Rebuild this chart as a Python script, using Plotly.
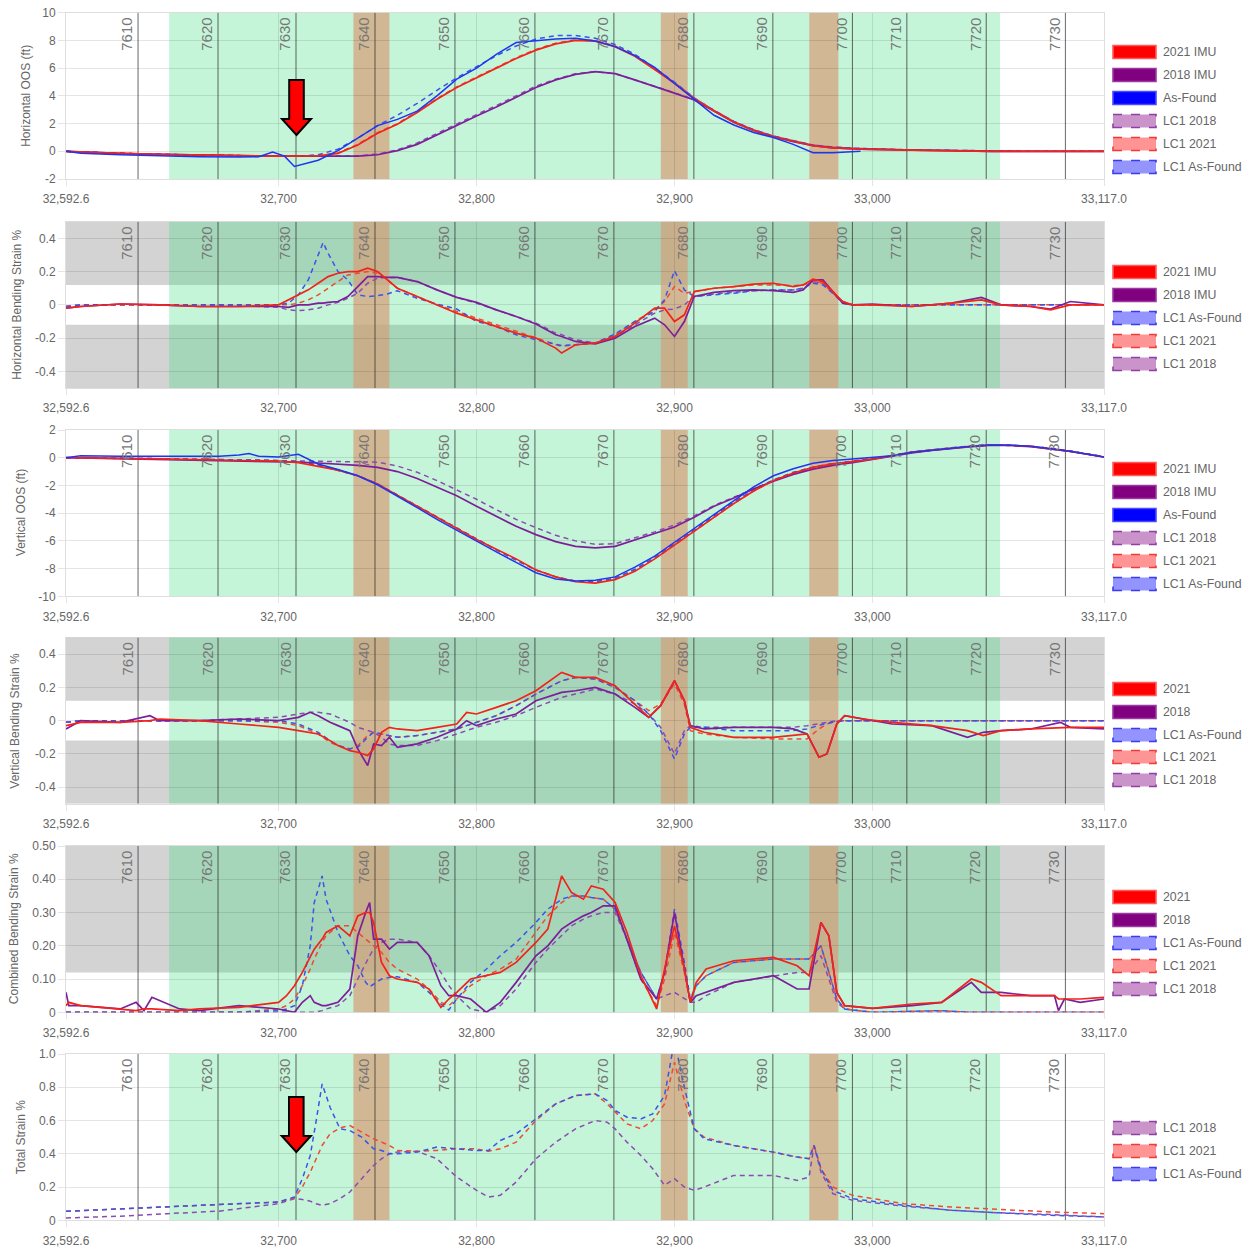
import plotly.graph_objects as go

# ====================== DATA ======================
X_MIN, X_MAX = 32592.6, 33117.0
X_TICK_VALS = [32592.6, 32700, 32800, 32900, 33000, 33117.0]
X_TICK_TEXT = ["32,592.6", "32,700", "32,800", "32,900", "33,000", "33,117.0"]

STATION_X = [32629.0, 32669.4, 32708.8, 32748.7, 32789.1, 32829.5, 32869.4,
             32909.8, 32949.7, 32989.9, 33017.4, 33057.5, 33097.5]
STATION_LABELS = ["7610", "7620", "7630", "7640", "7650", "7660", "7670",
                  "7680", "7690", "7700", "7710", "7720", "7730"]
GREEN_ZONE = [32644.7, 33064.5]
BROWN_ZONES = [[32737.8, 32756.0], [32893.1, 32906.7], [32968.1, 32982.8]]
STRAIN_LIMIT = 0.12

# ---- Panel 1: Horizontal OOS (ft)
P1_X = [32592.6, 32600, 32620, 32640, 32660, 32680, 32690, 32697, 32703, 32708,
        32714, 32720, 32730, 32740, 32750, 32760, 32770, 32780, 32790, 32800,
        32810, 32820, 32830, 32840, 32850, 32860, 32870, 32880, 32890, 32900,
        32910, 32920, 32930, 32940, 32950, 32960, 32970, 32980, 32994, 33020,
        33040, 33060, 33080, 33100, 33117]
P1_2021 = [0.0, -0.05, -0.15, -0.22, -0.28, -0.32, -0.34, -0.35, -0.35, -0.35,
           -0.35, -0.33, -0.15, 0.45, 1.3, 1.95, 2.8, 3.75, 4.6, 5.3,
           6.0, 6.7, 7.3, 7.75, 8.0, 7.95, 7.55, 6.85, 5.9, 4.9,
           3.8, 2.9, 2.1, 1.5, 1.05, 0.7, 0.4, 0.25, 0.15, 0.08,
           0.03, 0.0, 0.0, 0.0, 0.0]
P1_2018 = [0.0, -0.05, -0.15, -0.22, -0.28, -0.32, -0.34, -0.35, -0.35, -0.35,
           -0.36, -0.36, -0.36, -0.35, -0.25, 0.05, 0.5, 1.2, 1.9, 2.55,
           3.2, 3.9, 4.6, 5.15, 5.55, 5.75, 5.6, 5.15, 4.7, 4.2,
           3.7, 2.9, 2.1, 1.5, 1.05, 0.7, 0.4, 0.25, 0.15, 0.08,
           0.03, 0.0, 0.0, 0.0, 0.0]
P1_AS_FOUND = [0.0, -0.15, -0.25, -0.35, -0.4, -0.42, -0.4, -0.05, -0.35, -1.1,
               -0.9, -0.65, 0.05, 0.95, 1.85, 2.3, 2.9, 4.0, 5.2, 6.0,
               7.0, 7.85, 8.0, 8.1, 8.15, 7.95, 7.55, 6.9, 6.05, 4.9,
               3.7, 2.6, 1.9, 1.35, 1.0, 0.5, -0.1, -0.1, 0.0, None,
               None, None, None, None, None]
P1_LC1_2018 = [0.0, -0.05, -0.15, -0.22, -0.28, -0.32, -0.34, -0.35, -0.35, -0.35,
               -0.36, -0.36, -0.36, -0.33, -0.2, 0.1, 0.6, 1.3, 2.0, 2.65,
               3.3, 4.0, 4.7, 5.2, 5.6, 5.75, 5.6, 5.15, 4.7, 4.25,
               3.75, 2.95, 2.15, 1.55, 1.1, 0.75, 0.45, 0.3, 0.2, 0.1,
               0.05, 0.02, 0.0, 0.0, 0.0]
P1_LC1_2021 = [0.0, -0.05, -0.15, -0.22, -0.28, -0.32, -0.34, -0.35, -0.35, -0.35,
               -0.35, -0.32, -0.12, 0.5, 1.35, 2.0, 2.85, 3.8, 4.65, 5.35,
               6.05, 6.75, 7.35, 7.8, 8.05, 8.0, 7.6, 6.9, 5.95, 4.95,
               3.85, 2.95, 2.15, 1.55, 1.1, 0.75, 0.45, 0.3, 0.2, 0.1,
               0.05, 0.02, 0.0, 0.0, 0.0]
P1_LC1_AF = [0.0, -0.05, -0.15, -0.22, -0.28, -0.32, -0.34, -0.35, -0.35, -0.35,
             -0.32, -0.25, 0.15, 0.95, 1.85, 2.6, 3.45, 4.4, 5.3, 6.1,
             6.9, 7.6, 8.1, 8.35, 8.35, 8.15, 7.7, 7.0, 6.0, 5.0,
             3.85, 2.95, 2.15, 1.55, 1.1, 0.75, 0.45, 0.3, 0.2, 0.1,
             0.05, 0.02, 0.0, 0.0, 0.0]

# ---- Panel 2: Horizontal Bending Strain %
P2_X = [32592.6, 32600, 32620, 32640, 32660, 32680, 32700, 32705, 32710, 32715,
        32720, 32722.5, 32725, 32730, 32735, 32740, 32745, 32750, 32755, 32760,
        32770, 32780, 32790, 32800, 32810, 32820, 32830, 32840, 32843, 32850,
        32860, 32870, 32880, 32890, 32895, 32900, 32905, 32910, 32920, 32930,
        32940, 32950, 32960, 32965, 32970, 32975, 32980, 32985, 32990, 33000,
        33020, 33040, 33055, 33065, 33080, 33090, 33100, 33117]
P2_2021 = [-0.02, -0.01, 0.005, 0.0, -0.01, -0.01, 0.0, 0.03, 0.06, 0.09,
           0.13, 0.15, 0.17, 0.19, 0.2, 0.2, 0.22, 0.2, 0.15, 0.1,
           0.05, 0.0, -0.05, -0.09, -0.13, -0.17, -0.2, -0.26, -0.29, -0.24,
           -0.23, -0.19, -0.11, -0.02, -0.02, -0.1, -0.06, 0.08, 0.1, 0.11,
           0.125, 0.13, 0.11, 0.12, 0.155, 0.14, 0.08, 0.02, 0.0, 0.0,
           -0.01, 0.01, 0.03, 0.0, -0.01, -0.03, 0.0, 0.0]
P2_2018 = [-0.02, -0.01, 0.005, 0.0, -0.01, -0.01, -0.01, -0.015, 0.0, 0.0,
           0.01, 0.01, 0.015, 0.02, 0.05, 0.11, 0.17, 0.17, 0.165, 0.165,
           0.14, 0.09, 0.045, 0.015, -0.03, -0.07, -0.115, -0.18, -0.19, -0.22,
           -0.235, -0.2, -0.13, -0.08, -0.12, -0.19, -0.1, 0.05, 0.075, 0.085,
           0.09, 0.085, 0.075, 0.09, 0.15, 0.15, 0.08, 0.01, 0.0, 0.005,
           -0.01, 0.01, 0.045, 0.0, -0.01, -0.025, 0.02, 0.0]
P2_LC1_AF = [-0.01, 0.0, 0.0, 0.0, 0.0, 0.0, 0.0, 0.01, 0.06, 0.15,
             0.3, 0.375, 0.31, 0.2, 0.15, 0.06, 0.05, 0.055, 0.065, 0.085,
             0.04, 0.005, -0.025, -0.1, -0.13, -0.18, -0.21, -0.24, -0.245, -0.24,
             -0.23, -0.175, -0.1, -0.04, 0.03, 0.205, 0.09, 0.05, 0.06, 0.07,
             0.085, 0.09, 0.09, 0.1, 0.13, 0.12, 0.07, 0.02, 0.0, 0.0,
             0.0, 0.0, 0.0, 0.0, 0.0, 0.0, 0.0, 0.0]
P2_LC1_2021 = [-0.01, 0.0, 0.0, 0.0, 0.0, 0.0, 0.0, 0.0, 0.01, 0.03,
               0.06, 0.08, 0.1, 0.14, 0.18, 0.19, 0.2, 0.19, 0.15, 0.1,
               0.05, 0.0, -0.04, -0.08, -0.12, -0.16, -0.2, -0.24, -0.25, -0.24,
               -0.23, -0.18, -0.1, -0.03, 0.02, 0.11, 0.07, 0.08, 0.1, 0.11,
               0.12, 0.12, 0.115, 0.12, 0.14, 0.13, 0.07, 0.02, 0.0, 0.0,
               0.0, 0.0, 0.0, 0.0, 0.0, 0.0, 0.0, 0.0]
P2_LC1_2018 = [-0.01, 0.0, 0.0, 0.0, 0.0, -0.005, -0.015, -0.03, -0.035, -0.03,
               -0.02, -0.01, 0.0, 0.015, 0.04, 0.07, 0.13, 0.16, 0.165, 0.165,
               0.14, 0.09, 0.045, 0.01, -0.03, -0.07, -0.11, -0.17, -0.18, -0.21,
               -0.23, -0.19, -0.12, -0.05, -0.03, -0.025, 0.0, 0.05, 0.065, 0.075,
               0.085, 0.09, 0.09, 0.1, 0.14, 0.13, 0.07, 0.01, 0.0, 0.0,
               0.0, 0.0, 0.0, 0.0, 0.0, 0.0, 0.0, 0.0]

# ---- Panel 3: Vertical OOS (ft)
P3_X = [32592.6, 32600, 32620, 32640, 32660, 32670, 32680, 32685, 32690, 32700,
        32710, 32720, 32730, 32740, 32750, 32760, 32770, 32780, 32790, 32800,
        32810, 32820, 32830, 32840, 32850, 32860, 32870, 32880, 32890, 32900,
        32910, 32920, 32930, 32940, 32950, 32960, 32970, 32980, 32990, 33000,
        33010, 33020, 33030, 33040, 33050, 33060, 33070, 33080, 33090, 33100,
        33117]
P3_2021 = [0.0, 0.0, -0.05, -0.08, -0.12, -0.14, -0.16, -0.18, -0.2, -0.25,
           -0.35, -0.6, -0.9, -1.3, -1.9, -2.7, -3.5, -4.3, -5.1, -5.9,
           -6.6, -7.3, -8.1, -8.6, -8.95, -9.05, -8.8, -8.2, -7.3, -6.3,
           -5.3, -4.3, -3.3, -2.4, -1.65, -1.1, -0.7, -0.45, -0.3, -0.1,
           0.15, 0.4, 0.55, 0.7, 0.82, 0.92, 0.9, 0.82, 0.65, 0.46,
           0.05]
P3_2018 = [0.0, -0.02, -0.08, -0.12, -0.15, -0.18, -0.2, -0.22, -0.24, -0.28,
           -0.32, -0.38, -0.45, -0.55, -0.7, -1.0, -1.5, -2.1, -2.75, -3.5,
           -4.25, -4.95, -5.55, -6.05, -6.4, -6.5, -6.4, -5.95, -5.5, -5.0,
           -4.3, -3.5, -2.9, -2.25, -1.7, -1.2, -0.82, -0.55, -0.35, -0.1,
           0.12, 0.35, 0.52, 0.68, 0.8, 0.9, 0.88, 0.8, 0.65, 0.45,
           0.05]
P3_AS_FOUND = [0.0, 0.15, 0.1, 0.1, 0.15, 0.1, 0.2, 0.3, 0.1, 0.05,
               0.25, -0.45, -0.85, -1.3, -1.95, -2.75, -3.6, -4.45, -5.25, -6.05,
               -6.8, -7.55, -8.3, -8.75, -8.9, -8.85, -8.6, -7.9, -7.1, -6.1,
               -5.1, -4.1, -3.05, -2.1, -1.3, -0.8, -0.4, -0.2, -0.1, 0.0,
               0.15, 0.4, 0.55, 0.7, 0.82, 0.92, 0.9, 0.82, 0.65, 0.46,
               0.05]
P3_LC1_2018 = [0.0, -0.02, -0.06, -0.1, -0.13, -0.15, -0.17, -0.18, -0.19, -0.22,
               -0.24, -0.25, -0.25, -0.27, -0.32, -0.6, -1.05, -1.65, -2.3, -3.0,
               -3.75, -4.45, -5.05, -5.6, -6.0, -6.25, -6.2, -5.8, -5.35, -4.85,
               -4.2, -3.45, -2.85, -2.2, -1.65, -1.15, -0.78, -0.5, -0.3, -0.05,
               0.15, 0.38, 0.55, 0.7, 0.82, 0.92, 0.9, 0.82, 0.67, 0.47,
               0.07]
P3_LC1_2021 = [0.0, 0.0, -0.04, -0.07, -0.1, -0.12, -0.14, -0.15, -0.17, -0.22,
               -0.32, -0.55, -0.9, -1.3, -1.9, -2.7, -3.5, -4.3, -5.1, -5.9,
               -6.65, -7.35, -8.1, -8.6, -8.9, -8.95, -8.7, -8.1, -7.3, -6.3,
               -5.3, -4.3, -3.3, -2.4, -1.65, -1.1, -0.7, -0.45, -0.28, -0.08,
               0.15, 0.4, 0.56, 0.72, 0.84, 0.93, 0.9, 0.82, 0.67, 0.47,
               0.07]
P3_LC1_AF = [0.0, 0.0, -0.04, -0.07, -0.1, -0.12, -0.14, -0.15, -0.17, -0.2,
             -0.3, -0.52, -0.88, -1.3, -1.9, -2.7, -3.5, -4.3, -5.1, -5.9,
             -6.65, -7.4, -8.1, -8.6, -8.9, -8.95, -8.7, -8.05, -7.2, -6.2,
             -5.2, -4.2, -3.2, -2.3, -1.6, -1.05, -0.68, -0.42, -0.26, -0.06,
             0.16, 0.41, 0.57, 0.73, 0.85, 0.94, 0.91, 0.83, 0.68, 0.48,
             0.07]

# ---- Panel 4: Vertical Bending Strain %
P4_X = [32592.6, 32600, 32620, 32635, 32640, 32660, 32680, 32700, 32710, 32716,
        32720, 32726, 32730, 32736, 32740, 32745, 32748, 32752, 32756, 32760,
        32770, 32780, 32790, 32795, 32800, 32810, 32820, 32830, 32843, 32850,
        32860, 32870, 32880, 32887, 32893, 32900, 32905, 32908, 32915, 32930,
        32950, 32960, 32967, 32973, 32977, 32982, 32986, 32995, 33010, 33030,
        33048, 33056, 33065, 33080, 33095, 33100, 33117]
P4_2021 = [-0.03, -0.01, -0.01, 0.0, 0.01, 0.0, -0.02, -0.04, -0.06, -0.07,
           -0.08, -0.12, -0.15, -0.18, -0.19, -0.21, -0.17, -0.07, -0.04, -0.05,
           -0.06, -0.04, -0.02, 0.05, 0.04, 0.08, 0.12, 0.18, 0.29, 0.26,
           0.26, 0.21, 0.1, 0.02, 0.09, 0.24, 0.12, -0.04, -0.07, -0.1,
           -0.1, -0.09, -0.08, -0.22, -0.2, -0.02, 0.03, 0.01, -0.01, -0.03,
           -0.06, -0.09, -0.06, -0.05, -0.04, -0.04, -0.04]
P4_2018 = [-0.05, 0.0, -0.01, 0.03, 0.0, 0.0, 0.01, 0.0, 0.02, 0.05,
           0.03, -0.01, -0.03, -0.06, -0.17, -0.27, -0.14, -0.15, -0.1, -0.16,
           -0.14, -0.1, -0.05, 0.0, -0.03, 0.01, 0.04, 0.12, 0.17, 0.18,
           0.2, 0.16, 0.08, 0.02, 0.09, 0.24, 0.12, -0.03, -0.05, -0.04,
           -0.04, -0.05, -0.08, -0.22, -0.2, -0.02, 0.03, 0.01, -0.02, -0.03,
           -0.1, -0.07, -0.06, -0.05, -0.01, -0.04, -0.05]
P4_LC1_AF = [-0.01, 0.0, 0.0, 0.0, 0.0, 0.0, 0.0, 0.0, -0.02, -0.05,
             -0.07, -0.12, -0.15, -0.17, -0.16, -0.1, -0.07, -0.08, -0.09, -0.1,
             -0.09, -0.07, -0.05, -0.03, -0.01, 0.03, 0.09, 0.16, 0.24, 0.26,
             0.25, 0.2, 0.12, 0.04, -0.06, -0.23, -0.08, -0.04, -0.04, -0.06,
             -0.06, -0.06, -0.05, -0.03, -0.015, -0.005, 0.0, 0.0, 0.0, 0.0,
             0.0, 0.0, 0.0, 0.0, 0.0, 0.0, 0.0]
P4_LC1_2021 = [-0.01, 0.0, 0.0, 0.0, 0.0, 0.0, 0.0, -0.01, -0.03, -0.06,
               -0.08, -0.13, -0.15, -0.17, -0.15, -0.09, -0.07, -0.08, -0.09, -0.1,
               -0.09, -0.07, -0.05, -0.03, -0.01, 0.03, 0.09, 0.16, 0.24, 0.26,
               0.25, 0.2, 0.12, 0.06, 0.1, 0.22, 0.1, -0.06, -0.08, -0.1,
               -0.11, -0.11, -0.11, -0.05, -0.02, -0.005, 0.0, 0.0, 0.0, 0.0,
               0.0, 0.0, 0.0, 0.0, 0.0, 0.0, 0.0]
P4_LC1_2018 = [-0.01, 0.0, 0.0, 0.0, 0.0, 0.0, 0.01, 0.02, 0.04, 0.05,
               0.05, 0.04, 0.02, -0.01, -0.04, -0.06, -0.07, -0.1, -0.14, -0.15,
               -0.15, -0.12, -0.08, -0.06, -0.04, -0.01, 0.03, 0.08, 0.14, 0.16,
               0.19, 0.16, 0.1, 0.04, -0.04, -0.2, -0.06, -0.03, -0.04, -0.04,
               -0.04, -0.04, -0.03, -0.02, -0.01, 0.0, 0.0, 0.0, 0.0, 0.0,
               0.0, 0.0, 0.0, 0.0, 0.0, 0.0, 0.0]

# ---- Panel 5: Combined Bending Strain %
P5_X = [32592.6, 32594, 32600, 32610, 32620, 32628, 32632, 32636, 32650, 32660,
        32680, 32700, 32704, 32708, 32712, 32716, 32718, 32722, 32724, 32730,
        32736, 32740, 32744, 32746, 32748, 32752, 32756, 32760, 32770, 32776,
        32782, 32786, 32790, 32797, 32805, 32812, 32820, 32830, 32836, 32843,
        32848, 32854, 32858, 32864, 32870, 32876, 32883, 32891, 32895, 32900,
        32905, 32908, 32911, 32916, 32930, 32950, 32962, 32968, 32974, 32978,
        32982, 32986, 33000, 33020, 33035, 33050, 33055, 33065, 33080, 33092,
        33094, 33097, 33105, 33117]
P5_2021 = [0.02, 0.03, 0.02, 0.015, 0.01, 0.005, 0.01, 0.01, 0.005, 0.01,
           0.015, 0.03, 0.05, 0.08, 0.12, 0.17, 0.19, 0.22, 0.24, 0.26,
           0.23, 0.29, 0.3, 0.3, 0.27, 0.15, 0.11, 0.1, 0.09, 0.07,
           0.015, 0.04, 0.06, 0.1, 0.11, 0.12, 0.15, 0.21, 0.25, 0.41,
           0.36, 0.34, 0.38, 0.37, 0.33, 0.24, 0.11, 0.01, 0.13, 0.26,
           0.13, 0.03, 0.09, 0.13, 0.155, 0.165, 0.14, 0.11, 0.27, 0.23,
           0.06, 0.02, 0.012, 0.025, 0.03, 0.1, 0.09, 0.05, 0.05, 0.05,
           0.04, 0.04, 0.04, 0.045]
P5_2018 = [0.06, 0.02, 0.02, 0.015, 0.01, 0.03, 0.005, 0.045, 0.01, 0.005,
           0.02, 0.01, 0.005, 0.0, 0.03, 0.05, 0.03, 0.02, 0.02, 0.03,
           0.07, 0.23, 0.3, 0.33, 0.22, 0.22, 0.19, 0.21, 0.21, 0.17,
           0.08, 0.05, 0.05, 0.04, 0.0, 0.03, 0.09, 0.17, 0.2, 0.25,
           0.27, 0.29, 0.3, 0.32, 0.32, 0.22, 0.1, 0.04, 0.12, 0.3,
           0.13, 0.03, 0.05, 0.06, 0.09, 0.11, 0.07, 0.07, 0.27, 0.23,
           0.06, 0.02, 0.012, 0.02, 0.03, 0.09, 0.06, 0.06, 0.05, 0.05,
           0.005, 0.04, 0.03, 0.04]
P5_LC1_AF = [0.0, 0.0, 0.0, 0.0, 0.0, 0.0, 0.0, 0.0, 0.0, 0.0,
             0.0, 0.005, 0.01, 0.02, 0.08, 0.2, 0.33, 0.41, 0.34, 0.24,
             0.17, 0.14, 0.09, 0.077, 0.085, 0.1, 0.105, 0.107, 0.09, 0.06,
             0.025, 0.007, 0.04, 0.09, 0.13, 0.17, 0.21, 0.27, 0.31, 0.34,
             0.35, 0.35, 0.345, 0.34, 0.31, 0.22, 0.12, 0.04, 0.12, 0.31,
             0.15, 0.04, 0.08, 0.11, 0.15, 0.16, 0.16, 0.16, 0.2, 0.12,
             0.04, 0.01, 0.0, 0.003, 0.005, 0.0, 0.0, 0.0, 0.0, 0.0,
             0.0, 0.0, 0.0, 0.0]
P5_LC1_2021 = [0.0, 0.0, 0.0, 0.0, 0.0, 0.0, 0.0, 0.0, 0.0, 0.0,
               0.0, 0.01, 0.02, 0.04, 0.08, 0.13, 0.16, 0.21, 0.23, 0.26,
               0.26, 0.24, 0.22, 0.21, 0.2, 0.18, 0.15, 0.13, 0.1, 0.07,
               0.03, 0.02, 0.04, 0.08, 0.11, 0.13, 0.16, 0.24, 0.29, 0.33,
               0.35, 0.35, 0.345, 0.34, 0.31, 0.22, 0.1, 0.02, 0.1, 0.24,
               0.12, 0.03, 0.08, 0.11, 0.15, 0.16, 0.16, 0.16, 0.2, 0.12,
               0.04, 0.01, 0.0, 0.003, 0.005, 0.0, 0.0, 0.0, 0.0, 0.0,
               0.0, 0.0, 0.0, 0.0]
P5_LC1_2018 = [0.0, 0.0, 0.0, 0.0, 0.0, 0.0, 0.0, 0.0, 0.0, 0.0,
               0.0, 0.0, 0.0, 0.0, 0.0, 0.0, 0.0, 0.005, 0.01, 0.02,
               0.05, 0.1, 0.15, 0.17, 0.19, 0.21, 0.22, 0.22, 0.21, 0.17,
               0.12, 0.08, 0.05, 0.01, 0.0, 0.02, 0.07, 0.15, 0.19, 0.23,
               0.26, 0.28, 0.29, 0.3, 0.3, 0.22, 0.12, 0.04, 0.05, 0.06,
               0.04, 0.03, 0.03, 0.05, 0.09, 0.11, 0.12, 0.12, 0.17, 0.1,
               0.03, 0.01, 0.0, 0.0, 0.0, 0.0, 0.0, 0.0, 0.0, 0.0,
               0.0, 0.0, 0.0, 0.0]

# ---- Panel 6: Total Strain %
P6_X = [32592.6, 32620, 32644, 32670, 32700, 32708, 32712, 32716, 32719, 32722,
        32726, 32731, 32736, 32742, 32748, 32752, 32756, 32760, 32770, 32780,
        32790, 32800, 32806, 32812, 32820, 32830, 32840, 32850, 32860, 32866,
        32870, 32876, 32883, 32889, 32895, 32900, 32905, 32910, 32915, 32930,
        32950, 32962, 32968, 32970.5, 32974, 32980, 32990, 33016, 33040, 33064,
        33090, 33117]
P6_LC1_2018 = [0.014, 0.025, 0.04, 0.055, 0.1, 0.13, 0.125, 0.115, 0.1, 0.09,
               0.1, 0.13, 0.17, 0.25, 0.33, 0.37, 0.4, 0.41, 0.415, 0.37,
               0.26, 0.18, 0.14, 0.15, 0.23, 0.37, 0.47, 0.55, 0.6, 0.59,
               0.55, 0.47, 0.39, 0.31, 0.21, 0.25, 0.2, 0.18, 0.2, 0.27,
               0.27, 0.24, 0.26, 0.45, 0.29, 0.16, 0.12, 0.085, 0.06, 0.045,
               0.035, 0.02]
P6_LC1_2021 = [0.054, 0.07, 0.084, 0.095, 0.11, 0.135, 0.2, 0.29, 0.37, 0.45,
               0.52, 0.555, 0.57, 0.53, 0.49, 0.47, 0.45, 0.42, 0.415, 0.42,
               0.43, 0.43, 0.415, 0.43, 0.47, 0.6, 0.7, 0.75, 0.76, 0.7,
               0.65, 0.58, 0.55, 0.6, 0.7, 0.95, 0.72, 0.55, 0.5, 0.45,
               0.41, 0.38, 0.37, 0.45, 0.31, 0.2, 0.15, 0.1, 0.08, 0.065,
               0.05, 0.04]
P6_LC1_AF = [0.054, 0.07, 0.084, 0.095, 0.11, 0.14, 0.25, 0.39, 0.6, 0.82,
             0.68, 0.55, 0.54, 0.5, 0.43, 0.42, 0.4, 0.4, 0.41, 0.44,
             0.43, 0.42, 0.42, 0.48, 0.52, 0.61, 0.7, 0.75, 0.76, 0.72,
             0.66, 0.62, 0.61, 0.64, 0.75, 1.08, 0.8, 0.55, 0.49, 0.45,
             0.41, 0.38, 0.37, 0.45, 0.31, 0.18, 0.13, 0.09, 0.06, 0.045,
             0.03, 0.02]

# ====================== STYLE ======================
W, H = 1250, 1247
PLOT_LEFT_PX, PLOT_RIGHT_PX = 66, 1104
PANEL_TOP_PX = [12.7, 221.7, 430.0, 637.5, 846.0, 1054.0]
PANEL_H_PX = 166.3
FONT = "Liberation Sans, Arial, sans-serif"
TXT = "#666666"
GRID = "rgba(0,0,0,0.10)"
GRAY_FILL = "rgb(211,211,211)"
GREEN_FILL = "rgba(60,222,130,0.30)"
BROWN_FILL = "rgba(214,160,120,0.72)"
STATION_LINE = "rgba(40,40,40,0.70)"
DASH = "5px,4px"

LINE_STYLE = {
    "2021": dict(color="#f2231a", width=1.7, dash="solid"),
    "2018": dict(color="#7d1f98", width=1.7, dash="solid"),
    "AF": dict(color="#1f35f0", width=1.5, dash="solid"),
    "LC1_AF": dict(color="#3a55e8", width=1.5, dash=DASH),
    "LC1_2021": dict(color="#ee4a34", width=1.5, dash=DASH),
    "LC1_2018": dict(color="#8a4cb0", width=1.5, dash=DASH),
}
LEGEND_STYLE = {
    "2021": ("#ff0000", "#ff5a5a", "solid"),
    "2018": ("#800080", "#9a3aa0", "solid"),
    "AF": ("#0000ff", "#4a4aff", "solid"),
    "LC1_2018": ("rgba(128,0,128,0.42)", "#8e3fa6", "dash"),
    "LC1_2021": ("rgba(255,0,0,0.42)", "#f03a3a", "dash"),
    "LC1_AF": ("rgba(0,0,255,0.42)", "#3a3af0", "dash"),
}

PANELS = [
    dict(title="Horizontal OOS (ft)", title_x=26, yrange=[-2, 10],
         tickvals=[-2, 0, 2, 4, 6, 8, 10], ticktext=["-2", "0", "2", "4", "6", "8", "10"],
         gray=[],
         series=[("LC1_2018", P1_X, P1_LC1_2018), ("LC1_2021", P1_X, P1_LC1_2021),
                 ("LC1_AF", P1_X, P1_LC1_AF), ("2018", P1_X, P1_2018),
                 ("2021", P1_X, P1_2021), ("AF", P1_X, P1_AS_FOUND)],
         legend=[("2021", "2021 IMU"), ("2018", "2018 IMU"), ("AF", "As-Found"),
                 ("LC1_2018", "LC1 2018"), ("LC1_2021", "LC1 2021"), ("LC1_AF", "LC1 As-Found")],
         legend_y=[52, 75, 98, 121, 144, 167]),
    dict(title="Horizontal Bending Strain %", title_x=17, yrange=[-0.5, 0.5],
         tickvals=[-0.4, -0.2, 0, 0.2, 0.4], ticktext=["-0.4", "-0.2", "0", "0.2", "0.4"],
         gray=[(STRAIN_LIMIT, 0.5), (-0.5, -STRAIN_LIMIT)],
         series=[("LC1_2018", P2_X, P2_LC1_2018), ("LC1_2021", P2_X, P2_LC1_2021),
                 ("LC1_AF", P2_X, P2_LC1_AF), ("2018", P2_X, P2_2018), ("2021", P2_X, P2_2021)],
         legend=[("2021", "2021 IMU"), ("2018", "2018 IMU"), ("LC1_AF", "LC1 As-Found"),
                 ("LC1_2021", "LC1 2021"), ("LC1_2018", "LC1 2018")],
         legend_y=[272, 295, 318, 341, 364]),
    dict(title="Vertical OOS (ft)", title_x=21, yrange=[-10, 2],
         tickvals=[-10, -8, -6, -4, -2, 0, 2], ticktext=["-10", "-8", "-6", "-4", "-2", "0", "2"],
         gray=[],
         series=[("LC1_2018", P3_X, P3_LC1_2018), ("LC1_2021", P3_X, P3_LC1_2021),
                 ("LC1_AF", P3_X, P3_LC1_AF), ("2018", P3_X, P3_2018),
                 ("2021", P3_X, P3_2021), ("AF", P3_X, P3_AS_FOUND)],
         legend=[("2021", "2021 IMU"), ("2018", "2018 IMU"), ("AF", "As-Found"),
                 ("LC1_2018", "LC1 2018"), ("LC1_2021", "LC1 2021"), ("LC1_AF", "LC1 As-Found")],
         legend_y=[469, 492, 515, 538, 561, 584]),
    dict(title="Vertical Bending Strain %", title_x=15, yrange=[-0.5, 0.5],
         tickvals=[-0.4, -0.2, 0, 0.2, 0.4], ticktext=["-0.4", "-0.2", "0", "0.2", "0.4"],
         gray=[(STRAIN_LIMIT, 0.5), (-0.5, -STRAIN_LIMIT)],
         series=[("LC1_2018", P4_X, P4_LC1_2018), ("LC1_2021", P4_X, P4_LC1_2021),
                 ("LC1_AF", P4_X, P4_LC1_AF), ("2018", P4_X, P4_2018), ("2021", P4_X, P4_2021)],
         legend=[("2021", "2021"), ("2018", "2018"), ("LC1_AF", "LC1 As-Found"),
                 ("LC1_2021", "LC1 2021"), ("LC1_2018", "LC1 2018")],
         legend_y=[689, 712, 735, 757, 780]),
    dict(title="Combined Bending Strain %", title_x=14, yrange=[0, 0.5],
         tickvals=[0, 0.1, 0.2, 0.3, 0.4, 0.5], ticktext=["0", "0.10", "0.20", "0.30", "0.40", "0.50"],
         gray=[(STRAIN_LIMIT, 0.5)],
         series=[("LC1_2018", P5_X, P5_LC1_2018), ("LC1_2021", P5_X, P5_LC1_2021),
                 ("LC1_AF", P5_X, P5_LC1_AF), ("2018", P5_X, P5_2018), ("2021", P5_X, P5_2021)],
         legend=[("2021", "2021"), ("2018", "2018"), ("LC1_AF", "LC1 As-Found"),
                 ("LC1_2021", "LC1 2021"), ("LC1_2018", "LC1 2018")],
         legend_y=[897, 920, 943, 966, 989]),
    dict(title="Total Strain %", title_x=21, yrange=[0, 1.0],
         tickvals=[0, 0.2, 0.4, 0.6, 0.8, 1.0], ticktext=["0", "0.2", "0.4", "0.6", "0.8", "1.0"],
         gray=[],
         series=[("LC1_2018", P6_X, P6_LC1_2018), ("LC1_2021", P6_X, P6_LC1_2021),
                 ("LC1_AF", P6_X, P6_LC1_AF)],
         legend=[("LC1_2018", "LC1 2018"), ("LC1_2021", "LC1 2021"), ("LC1_AF", "LC1 As-Found")],
         legend_y=[1128, 1151, 1174]),
]

ARROWS_PX = [(296.5, 80, 135), (296.3, 1097, 1152)]


def px_x(p):
    return p / W


def px_y(p):
    return 1 - p / H


for p in PANELS:
    for key, xs, ys in p["series"]:
        assert len(xs) == len(ys), (p["title"], key, len(xs), len(ys))

fig = go.Figure()
shapes, annotations, axes = [], [], {}

for i, p in enumerate(PANELS):
    n = i + 1
    sfx = "" if n == 1 else str(n)
    xa, ya = "x" + sfx, "y" + sfx
    top = PANEL_TOP_PX[i]
    bot = top + PANEL_H_PX
    ylo, yhi = p["yrange"]

    axes["xaxis" + sfx] = dict(
        domain=[px_x(PLOT_LEFT_PX), px_x(PLOT_RIGHT_PX)], range=[X_MIN, X_MAX], anchor=ya,
        tickmode="array", tickvals=X_TICK_VALS, ticktext=X_TICK_TEXT,
        showgrid=True, gridcolor=GRID, gridwidth=1, zeroline=False,
        ticks="outside", ticklen=6, tickcolor=GRID, ticklabelstandoff=3,
        showline=True, linecolor="rgba(0,0,0,0.13)", mirror=True, automargin=False,
        tickfont=dict(size=12, color=TXT, family=FONT), fixedrange=True)
    axes["yaxis" + sfx] = dict(
        domain=[px_y(bot), px_y(top)], range=[ylo, yhi], anchor=xa,
        tickmode="array", tickvals=p["tickvals"], ticktext=p["ticktext"],
        showgrid=True, gridcolor=GRID, gridwidth=1, zeroline=False,
        ticks="outside", ticklen=7, tickcolor=GRID,
        showline=True, linecolor="rgba(0,0,0,0.13)", mirror=True, automargin=False,
        tickfont=dict(size=12, color=TXT, family=FONT), fixedrange=True)

    # background bands (same subplot layer, drawn in list order, all below the grid)
    for (y0, y1) in p["gray"]:
        shapes.append(dict(type="rect", xref=xa, yref=ya, x0=X_MIN, x1=X_MAX, y0=y0, y1=y1,
                           fillcolor=GRAY_FILL, line=dict(width=0), layer="below"))
    shapes.append(dict(type="rect", xref=xa, yref=ya, x0=GREEN_ZONE[0], x1=GREEN_ZONE[1],
                       y0=ylo, y1=yhi, fillcolor=GREEN_FILL, line=dict(width=0), layer="below"))
    for b0, b1 in BROWN_ZONES:
        shapes.append(dict(type="rect", xref=xa, yref=ya, x0=b0, x1=b1, y0=ylo, y1=yhi,
                           fillcolor=BROWN_FILL, line=dict(width=0), layer="below"))
    # station lines + labels
    for sx, lab in zip(STATION_X, STATION_LABELS):
        shapes.append(dict(type="line", xref=xa, yref=ya, x0=sx, x1=sx, y0=ylo, y1=yhi,
                           line=dict(color=STATION_LINE, width=1), layer="below"))
        annotations.append(dict(x=sx, y=yhi, xref=xa, yref=ya, text=lab,
                                textangle=-90, xanchor="right", yanchor="top", showarrow=False,
                                xshift=-1, yshift=-3,
                                font=dict(size=15, color="#777777", family=FONT)))
    # y title
    annotations.append(dict(x=px_x(p["title_x"]), y=px_y(top + PANEL_H_PX / 2), xref="paper",
                            yref="paper", text=p["title"], textangle=-90, showarrow=False,
                            xanchor="center", yanchor="middle",
                            font=dict(size=12, color=TXT, family=FONT)))
    # data traces
    for key, xs, ys in p["series"]:
        st = LINE_STYLE[key]
        fig.add_trace(go.Scatter(x=xs, y=ys, xaxis=xa, yaxis=ya, mode="lines",
                                 line=dict(color=st["color"], width=st["width"], dash=st["dash"]),
                                 connectgaps=False, showlegend=False, hoverinfo="skip"))
    # legend (drawn as boxes + text)
    for (key, label), yc in zip(p["legend"], p["legend_y"]):
        fill, border, dash = LEGEND_STYLE[key]
        shapes.append(dict(type="rect", xref="paper", yref="paper",
                           x0=px_x(1113), x1=px_x(1156), y0=px_y(yc + 6.5), y1=px_y(yc - 6.5),
                           fillcolor=fill, line=dict(color=border, width=1.6, dash=dash),
                           layer="above"))
        annotations.append(dict(x=px_x(1161), y=px_y(yc), xref="paper", yref="paper", text=label,
                                showarrow=False, xanchor="left", yanchor="middle",
                                font=dict(size=12.3, color=TXT, family=FONT)))

# red arrows
for cx, top, tip in ARROWS_PX:
    shaft, head, head_h = 7.3, 14.5, 16
    pts = [(cx - shaft, top), (cx + shaft, top), (cx + shaft, tip - head_h), (cx + head, tip - head_h),
           (cx, tip), (cx - head, tip - head_h), (cx - shaft, tip - head_h)]
    path = "M " + " L ".join(f"{px_x(a):.5f},{px_y(b):.5f}" for a, b in pts) + " Z"
    shapes.append(dict(type="path", xref="paper", yref="paper", path=path,
                       fillcolor="#ff0000", line=dict(color="#000000", width=2), layer="above"))

fig.update_layout(
    width=W, height=H, autosize=False,
    margin=dict(l=0, r=0, t=0, b=0, autoexpand=False),
    paper_bgcolor="white", plot_bgcolor="white",
    font=dict(family=FONT, color=TXT, size=12),
    showlegend=False,
    shapes=shapes, annotations=annotations,
    **axes,
)

# the page's default 8px body margin would push the 1250x1247 figure out of the window
fig.write_html("out.html",
               config={"displayModeBar": False, "staticPlot": True},
               post_script="document.body.style.margin='0';document.body.style.overflow='hidden';")
